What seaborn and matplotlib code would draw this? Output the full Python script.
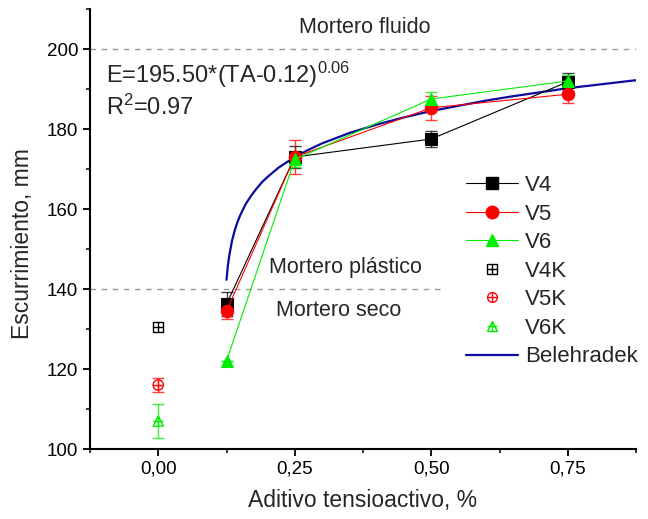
import numpy as np
import pandas as pd
import matplotlib
matplotlib.use("Agg")
import matplotlib.pyplot as plt
from matplotlib.legend_handler import HandlerTuple
from matplotlib.lines import Line2D
import seaborn as sns

# ---- data ----
ta = [0.125, 0.25, 0.50, 0.75]
v4 = [136.2, 173.0, 177.5, 191.8]
v4_err = [3.0, 2.8, 2.1, 2.3]
v5 = [134.5, 173.0, 185.3, 188.7]
v5_err = [2.0, 4.2, 3.0, 2.3]
v6 = [122.0, 172.4, 187.5, 192.0]
v6_err = [0.0, 2.0, 1.8, 1.5]

ta_k = [0.0]
v4k = [130.5]
v4k_err = [0.0]
v5k = [116.0]
v5k_err = [1.7]
v6k = [107.0]
v6k_err = [4.3]

bel_ta = [0.125, 0.1275, 0.13, 0.135, 0.14, 0.145, 0.15, 0.16, 0.17, 0.18, 0.19,
          0.20, 0.22, 0.25, 0.275, 0.30, 0.35, 0.40, 0.45, 0.50, 0.55, 0.60,
          0.65, 0.70, 0.75, 0.80, 0.875]
bel_e = [142.3, 145.8, 148.3, 152.0, 154.6, 156.7, 158.4, 161.2, 163.3, 165.1, 166.7,
         168.0, 170.3, 173.0, 174.8, 176.4, 179.0, 181.1, 182.9, 184.5, 185.8, 187.1,
         188.2, 189.2, 190.2, 191.0, 192.2]

xtick_vals = [0.0, 0.25, 0.50, 0.75]
xtick_labels = ["0,00", "0,25", "0,50", "0,75"]
ytick_vals = [100, 120, 140, 160, 180, 200]

sns.set_style("ticks")
plt.rcParams['font.family'] = ['Liberation Sans', 'DejaVu Sans']
plt.rcParams['mathtext.fontset'] = 'custom'
plt.rcParams['mathtext.rm'] = 'Liberation Sans'
plt.rcParams['mathtext.it'] = 'Liberation Sans'
plt.rcParams['mathtext.bf'] = 'Liberation Sans'

fig = plt.figure(figsize=(6.48, 5.19), dpi=100)
ax = fig.add_axes([90 / 648, 70 / 519, 546 / 648, 440 / 519])

BLACK = "#000000"
RED = "#ff0000"
GREEN = "#00ee00"
BLUE = "#0a0a9c"

# reference lines
ax.axhline(200, color="#999999", lw=1.0, ls=(0, (4, 4)), zorder=1)
ax.plot([-0.125, 0.52], [140, 140], color="#999999", lw=1.0, ls=(0, (4, 4)), zorder=1)

# error bars
def ebar(x, y, e, c):
    ax.errorbar(x, y, yerr=e, fmt="none", ecolor=c, elinewidth=1.0,
                capsize=4, capthick=1.0, alpha=0.75, zorder=2)

ebar(ta, v4, v4_err, BLACK)
ebar(ta, v5, v5_err, RED)
ebar(ta, v6, v6_err, GREEN)
ebar(ta_k, v5k, v5k_err, RED)
ebar(ta_k, v6k, v6k_err, GREEN)

# main series
df = pd.DataFrame({"TA": ta, "V4": v4, "V5": v5, "V6": v6})
sns.lineplot(data=df, x="TA", y="V4", ax=ax, color=BLACK, lw=0.8, marker="s",
             markersize=8, markeredgecolor=BLACK, zorder=4)
sns.lineplot(data=df, x="TA", y="V5", ax=ax, color=RED, lw=0.8, marker="o",
             markersize=9, markeredgecolor=RED, zorder=4)
sns.lineplot(data=df, x="TA", y="V6", ax=ax, color=GREEN, lw=0.8, marker="^",
             markersize=9, markeredgecolor=GREEN, zorder=4)

# K series (open marker + cross)
dk = pd.DataFrame({"TA": ta_k, "V4K": v4k, "V5K": v5k, "V6K": v6k})
for col, c, m in [("V4K", BLACK, "s"), ("V5K", RED, "o"), ("V6K", GREEN, "^")]:
    sns.scatterplot(data=dk, x="TA", y=col, ax=ax, marker=m, s=55,
                    facecolor="none", edgecolor=c, linewidth=1.0, zorder=4)
    sns.scatterplot(data=dk, x="TA", y=col, ax=ax, marker="+", s=55,
                    color=c, linewidth=1.0, zorder=4)

# Belehradek fit
dbel = pd.DataFrame({"TA": bel_ta, "E": bel_e})
sns.lineplot(data=dbel, x="TA", y="E", ax=ax, color=BLUE, lw=1.6, zorder=3)

# axes
ax.set_xlim(-0.125, 0.875)
ax.set_ylim(100, 210)
ax.set_xticks(xtick_vals)
ax.set_xticklabels(xtick_labels)
ax.set_xticks([-0.125, 0.125, 0.375, 0.625, 0.875], minor=True)
ax.set_yticks(ytick_vals)
ax.set_yticks([110, 130, 150, 170, 190, 210], minor=True)
ax.tick_params(axis="both", which="major", direction="out", length=5, width=1.3,
               labelsize=13.5, colors="black")
ax.tick_params(axis="both", which="minor", direction="out", length=3, width=1.3)
for s in ["left", "bottom"]:
    ax.spines[s].set_linewidth(1.5)
    ax.spines[s].set_color("black")
sns.despine(ax=ax)
ax.set_xlabel("Aditivo tensioactivo, %", fontsize=16.5, labelpad=8)
ax.set_ylabel("Escurrimiento, mm", fontsize=16.5)
ax.yaxis.set_label_coords(-0.103, 0.468)

# annotations
ax.text(0.379, 205.3, "Mortero fluido", fontsize=15.5, ha="center", va="center")
ax.text(0.342, 145.3, "Mortero plástico", fontsize=15.5, ha="center", va="center")
ax.text(0.331, 134.5, "Mortero seco", fontsize=15.5, ha="center", va="center")
ax.text(-0.096, 193.5, r"E=195.50*(TA-0.12)$^{0.06}$", fontsize=17, ha="left", va="center")
ax.text(-0.096, 185.5, r"R$^{2}$=0.97", fontsize=17, ha="left", va="center")

# legend
def lh(c, m, ms):
    return Line2D([], [], color=c, lw=0.8, marker=m, markersize=ms,
                  markeredgecolor=c, markerfacecolor=c)

def kh(c, m):
    a = Line2D([], [], ls="none", marker=m, markersize=7, markerfacecolor="none",
               markeredgecolor=c, markeredgewidth=1.0)
    b = Line2D([], [], ls="none", marker="+", markersize=7, color=c,
               markeredgewidth=1.0)
    return (a, b)

handles = [lh(BLACK, "s", 8), lh(RED, "o", 9), lh(GREEN, "^", 9),
           kh(BLACK, "s"), kh(RED, "o"), kh(GREEN, "^"),
           Line2D([], [], color=BLUE, lw=1.6)]
labels = ["V4", "V5", "V6", "V4K", "V5K", "V6K", "Belehradek"]
fig.legend(handles, labels, loc="upper left", bbox_to_anchor=(466 / 648, 1 - 175 / 519),
           frameon=False, fontsize=16, handlelength=2.35, handletextpad=0.3,
           labelspacing=0.34, borderpad=0, borderaxespad=0,
           handler_map={tuple: HandlerTuple(ndivide=1, pad=0)})

fig.savefig("out.png", dpi=100)
